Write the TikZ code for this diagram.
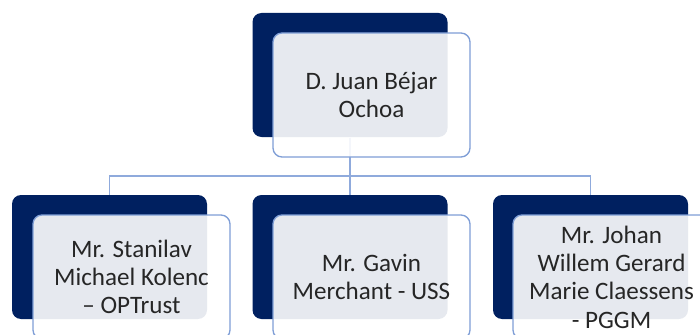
\documentclass[tikz,border=0pt]{standalone}
\usepackage{fontspec}
\setmainfont{Carlito}
\usetikzlibrary{backgrounds}
\definecolor{navy}{RGB}{0,32,96}
\definecolor{edgeblue}{RGB}{127,158,214}
\definecolor{linkblue}{RGB}{143,170,220}
\definecolor{inktext}{RGB}{38,38,38}
\tikzset{every picture/.style={line width=0.75pt}}
\tikzset{
  backbox/.style={draw=none, fill=navy, rounded corners=6.75pt, minimum width=146.25pt, minimum height=93pt, inner sep=0pt},
  frontbox/.style={draw=edgeblue, line width=1pt, fill=white, fill opacity=0.9, text opacity=1, text=inktext, rounded corners=6.75pt, minimum width=147.75pt, minimum height=93pt, inner sep=0pt, align=center, font=\fontsize{18.8}{21.2}\selectfont},
  link/.style={draw=linkblue, line width=1pt}
}

\begin{document}
\begin{tikzpicture}[x=0.75pt,y=0.75pt,yscale=-1,xscale=1]
\useasboundingbox (0,0) rectangle (700,335);
\clip (0,0) rectangle (700,335);
\node [backbox] (headBack) at (350,75) {};
\node [frontbox] (headFront) at (371.5,95) {D. Juan Béjar\\Ochoa};

\node [backbox] (kolencBack) at (109.5,257) {};
\node [frontbox] (kolencFront) at (131.5,277) {Mr. Stanilav\\Michael Kolenc\\– OPTrust};
\node [backbox] (merchantBack) at (350,257) {};
\node [frontbox] (merchantFront) at (371.5,277) {Mr. Gavin\\Merchant - USS};
\node [backbox] (claessensBack) at (590.5,257) {};
\node [frontbox] (claessensFront) at (611.5,277) {Mr. Johan\\Willem Gerard\\Marie Claessens\\- PGGM};

\coordinate (bus) at (350,176);
\begin{scope}[on background layer]
\draw [link] (headBack.south) -- (bus) -| (kolencBack.north);
\draw [link] (headBack.south) -- (bus) -- (merchantBack.north);
\draw [link] (headBack.south) -- (bus) -| (claessensBack.north);
\end{scope}
\end{tikzpicture}
\end{document}
